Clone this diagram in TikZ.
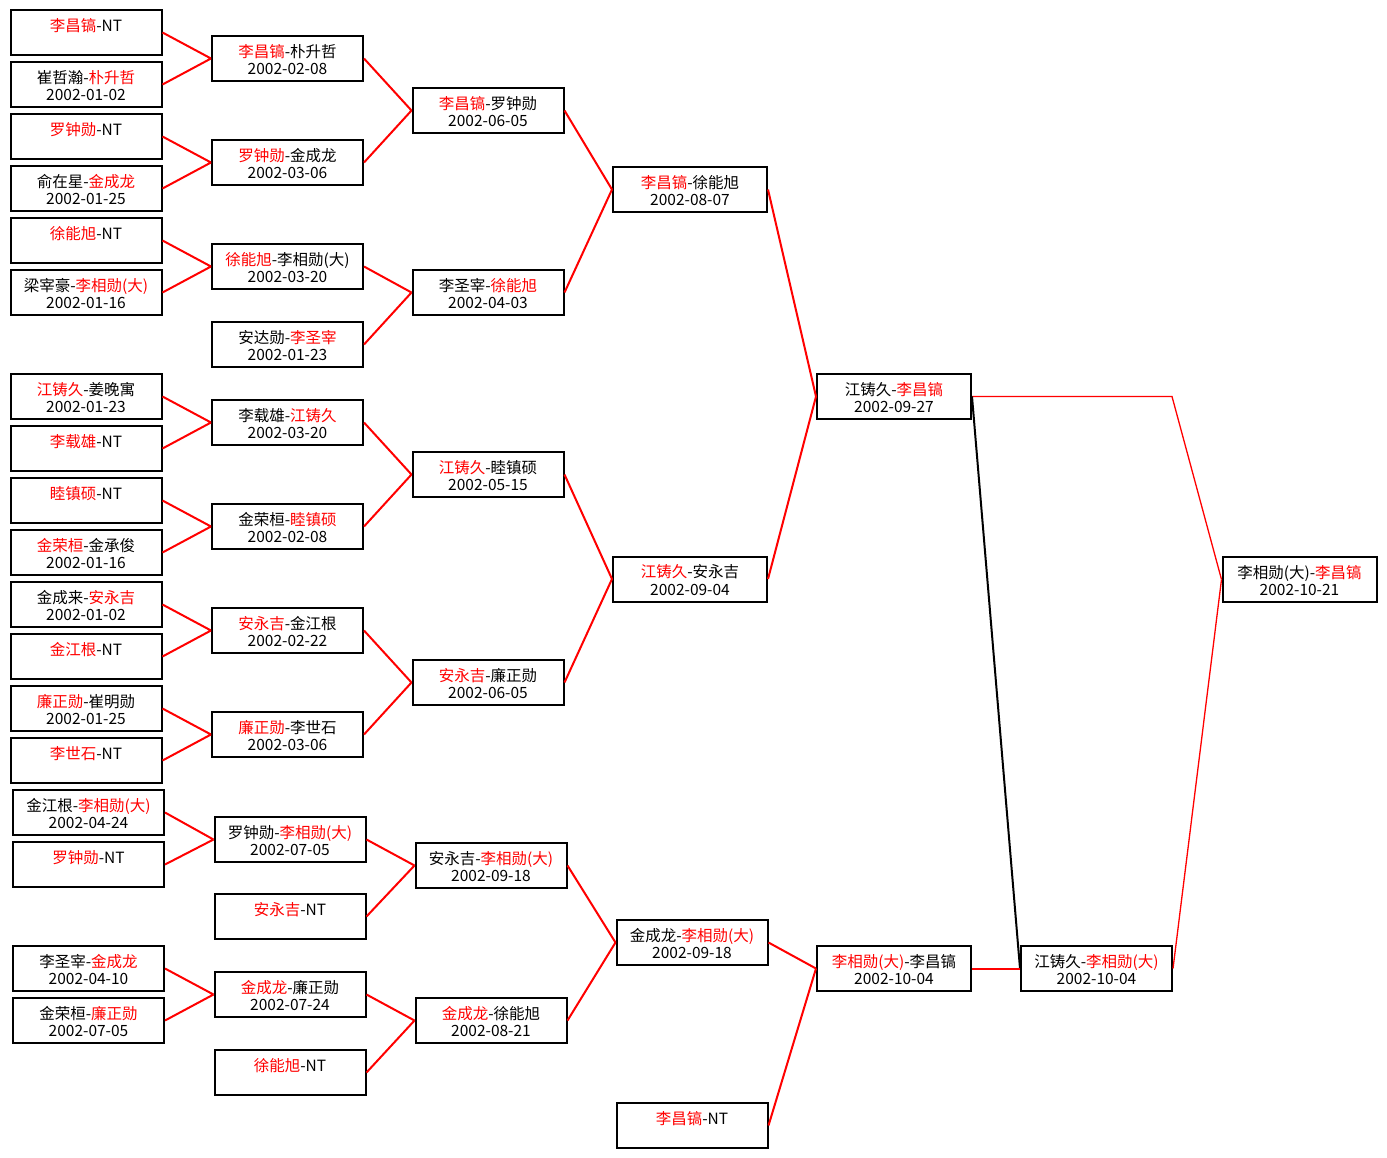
\documentclass[tikz,border=0pt]{standalone}
\usepackage{fontspec}
\setmainfont{Noto Sans CJK SC}
\usepackage{tikz}

\newcommand\wn[1]{\textcolor{red}{#1}}
\newcommand\gm[2]{\rule{0pt}{21pt}#1\\#2\rule[-6.5pt]{0pt}{6.5pt}}

\begin{document}
\begin{tikzpicture}[x=1pt,y=-1pt,
    game/.style={draw,line width=2pt,minimum width=151pt,minimum height=45pt,
      inner sep=0pt,align=center,font=\fontsize{15.5}{17.5}\selectfont},
    wide game/.style={game,minimum width=154pt},
    win/.style={red,line width=2pt},
    thin win/.style={red,line width=1.3pt}]
  \path[use as bounding box] (0,0) rectangle (1387,1157);

  % main bracket, first round
  \node[game] (a1) at (86,32.5) {\gm{\wn{李昌镐}-NT}{}};
  \node[game] (a2) at (86,84.5) {\gm{崔哲瀚-\wn{朴升哲}}{2002-01-02}};
  \node[game] (a3) at (86,136.5) {\gm{\wn{罗钟勋}-NT}{}};
  \node[game] (a4) at (86,188.5) {\gm{俞在星-\wn{金成龙}}{2002-01-25}};
  \node[game] (a5) at (86,240.5) {\gm{\wn{徐能旭}-NT}{}};
  \node[game] (a6) at (86,292.5) {\gm{梁宰豪-\wn{李相勋(大)}}{2002-01-16}};
  \node[game] (a7) at (86,396.5) {\gm{\wn{江铸久}-姜晚寓}{2002-01-23}};
  \node[game] (a8) at (86,448.5) {\gm{\wn{李载雄}-NT}{}};
  \node[game] (a9) at (86,500.5) {\gm{\wn{睦镇硕}-NT}{}};
  \node[game] (a10) at (86,552.5) {\gm{\wn{金荣桓}-金承俊}{2002-01-16}};
  \node[game] (a11) at (86,604.5) {\gm{金成来-\wn{安永吉}}{2002-01-02}};
  \node[game] (a12) at (86,656.5) {\gm{\wn{金江根}-NT}{}};
  \node[game] (a13) at (86,708.5) {\gm{\wn{廉正勋}-崔明勋}{2002-01-25}};
  \node[game] (a14) at (86,760.5) {\gm{\wn{李世石}-NT}{}};

  % main bracket, second round
  \node[game] (b1) at (287.5,58.5) {\gm{\wn{李昌镐}-朴升哲}{2002-02-08}};
  \node[game] (b2) at (287.5,162.5) {\gm{\wn{罗钟勋}-金成龙}{2002-03-06}};
  \node[game] (b3) at (287.5,266.5) {\gm{\wn{徐能旭}-李相勋(大)}{2002-03-20}};
  \node[game] (b4) at (287.5,344.5) {\gm{安达勋-\wn{李圣宰}}{2002-01-23}};
  \node[game] (b5) at (287.5,422.5) {\gm{李载雄-\wn{江铸久}}{2002-03-20}};
  \node[game] (b6) at (287.5,526.5) {\gm{金荣桓-\wn{睦镇硕}}{2002-02-08}};
  \node[game] (b7) at (287.5,630.5) {\gm{\wn{安永吉}-金江根}{2002-02-22}};
  \node[game] (b8) at (287.5,734.5) {\gm{\wn{廉正勋}-李世石}{2002-03-06}};

  % main bracket, later rounds
  \node[game] (c1) at (488,110.5) {\gm{\wn{李昌镐}-罗钟勋}{2002-06-05}};
  \node[game] (c2) at (488,292.5) {\gm{李圣宰-\wn{徐能旭}}{2002-04-03}};
  \node[game] (c3) at (488,474.5) {\gm{\wn{江铸久}-睦镇硕}{2002-05-15}};
  \node[game] (c4) at (488,682.5) {\gm{\wn{安永吉}-廉正勋}{2002-06-05}};
  \node[wide game] (d1) at (690,189.5) {\gm{\wn{李昌镐}-徐能旭}{2002-08-07}};
  \node[wide game] (d2) at (690,579) {\gm{\wn{江铸久}-安永吉}{2002-09-04}};
  \node[wide game] (e1) at (894,396.5) {\gm{江铸久-\wn{李昌镐}}{2002-09-27}};
  \node[wide game] (f1) at (1299.5,579.5) {\gm{李相勋(大)-\wn{李昌镐}}{2002-10-21}};

  % second bracket
  \node[game] (g1) at (88.5,812.5) {\gm{金江根-\wn{李相勋(大)}}{2002-04-24}};
  \node[game] (g2) at (88.5,864.5) {\gm{\wn{罗钟勋}-NT}{}};
  \node[game] (g3) at (88.5,968.5) {\gm{李圣宰-\wn{金成龙}}{2002-04-10}};
  \node[game] (g4) at (88.5,1020.5) {\gm{金荣桓-\wn{廉正勋}}{2002-07-05}};
  \node[game] (h1) at (290,839.5) {\gm{罗钟勋-\wn{李相勋(大)}}{2002-07-05}};
  \node[game] (h2) at (290,916.5) {\gm{\wn{安永吉}-NT}{}};
  \node[game] (h3) at (290,994.5) {\gm{\wn{金成龙}-廉正勋}{2002-07-24}};
  \node[game] (h4) at (290,1072.5) {\gm{\wn{徐能旭}-NT}{}};
  \node[game] (i1) at (491,865.5) {\gm{安永吉-\wn{李相勋(大)}}{2002-09-18}};
  \node[game] (i2) at (491,1020.5) {\gm{\wn{金成龙}-徐能旭}{2002-08-21}};
  \node[game] (j1) at (692,942.5) {\gm{金成龙-\wn{李相勋(大)}}{2002-09-18}};
  \node[game] (j2) at (692,1125.5) {\gm{\wn{李昌镐}-NT}{}};
  \node[wide game] (k1) at (894,968.5) {\gm{\wn{李相勋(大)}-李昌镐}{2002-10-04}};
  \node[game] (l1) at (1096.5,968.5) {\gm{江铸久-\wn{李相勋(大)}}{2002-10-04}};

  % connectors
  \foreach \p/\q/\r in {a1/a2/b1,a3/a4/b2,a5/a6/b3,a7/a8/b5,a9/a10/b6,a11/a12/b7,
      a13/a14/b8,b1/b2/c1,b3/b4/c2,b5/b6/c3,b7/b8/c4,c1/c2/d1,c3/c4/d2,d1/d2/e1,
      g1/g2/h1,h1/h2/i1,g3/g4/h3,h3/h4/i2,i1/i2/j1,j1/j2/k1}
    \draw[win] (\p.east) -- (\r.west) (\q.east) -- (\r.west);
  \coordinate (turn) at (1172,396.5);
  \draw[thin win] (e1.east) -- (turn) -- (f1.west);
  \draw[line width=2pt] (e1.east) -- (l1.west);
  \draw[win] (k1.east) -- (l1.west);
  \draw[thin win] (l1.east) -- (f1.west);
\end{tikzpicture}
\end{document}
